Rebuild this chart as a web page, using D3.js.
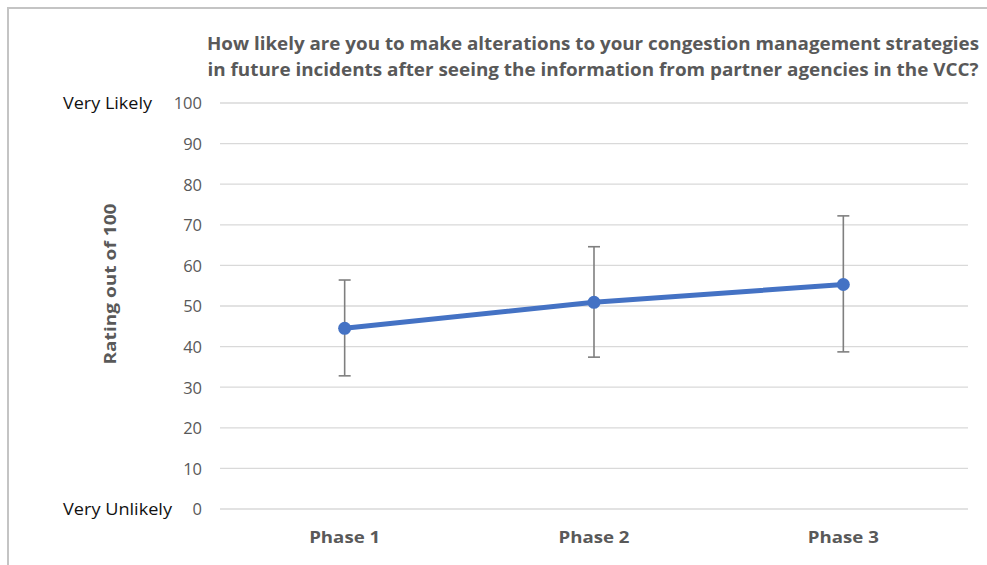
<!DOCTYPE html>
<html>
<head>
<meta charset="utf-8">
<script src="https://cdn.jsdelivr.net/npm/d3@7"></script>
<style>
  html, body { margin: 0; padding: 0; background: #fff; }
  svg { display: block; font-family: "Open Sans", "Noto Sans", sans-serif; }
</style>
</head>
<body>
<svg id="chart" width="987" height="565"></svg>
<script>
// Survey rating by phase, with error bar extents
const phases = ["Phase 1", "Phase 2", "Phase 3"];
const ratings = [44.5, 50.9, 55.3];
const errHigh = [56.4, 64.6, 72.2];
const errLow = [32.8, 37.4, 38.7];
const yTicks = [0, 10, 20, 30, 40, 50, 60, 70, 80, 90, 100];
const titleLines = [
  "How likely are you to make alterations to your congestion management strategies",
  "in future incidents after seeing the information from partner agencies in the VCC?"
];
const yAxisTitle = "Rating out of 100";
const topAnchor = "Very Likely";
const bottomAnchor = "Very Unlikely";

const svg = d3.select("#chart");
const plot = { left: 220, right: 968, top: 103, bottom: 509 };

const x = d3.scaleBand().domain(phases).range([plot.left, plot.right]);
const y = d3.scaleLinear().domain([0, 100]).range([plot.bottom, plot.top]);

// Squeeze text horizontally to a target width while keeping its height
function fit(sel, w) {
  sel.attr("textLength", w).attr("lengthAdjust", "spacingAndGlyphs");
}

// Outer frame
svg.append("path")
  .attr("d", "M8,565 L8,8 L987,8")
  .attr("fill", "none").attr("stroke", "#c4c4c4").attr("stroke-width", 2);

// Title
titleLines.forEach((t, i) => {
  svg.append("text")
    .attr("x", 593).attr("y", 50 + i * 26)
    .attr("text-anchor", "middle")
    .attr("font-size", 17).attr("font-weight", 700)
    .attr("fill", "#595959")
    .text(t)
    .call(fit, i === 0 ? 772 : 771);
});

// Gridlines
svg.append("g")
  .selectAll("line")
  .data(yTicks)
  .join("line")
  .attr("x1", plot.left).attr("x2", plot.right)
  .attr("y1", d => y(d)).attr("y2", d => y(d))
  .attr("stroke", "#d9d9d9").attr("stroke-width", 1.3);

// Y axis tick labels
const yAxis = d3.axisLeft(y).tickValues(yTicks).tickSize(0).tickPadding(0);
const gy = svg.append("g").attr("transform", "translate(202,0)").call(yAxis);
gy.select(".domain").remove();
gy.selectAll("text")
  .attr("font-family", "\"Open Sans\", sans-serif")
  .attr("font-size", 16.5).attr("fill", "#595959")
  .attr("dy", "0.36em");

// Anchor labels at the scale ends
svg.append("text")
  .attr("x", 63).attr("y", y(100)).attr("dy", "0.36em")
  .attr("font-size", 15.5).attr("fill", "#111")
  .text(topAnchor).call(fit, 89);
svg.append("text")
  .attr("x", 63).attr("y", y(0)).attr("dy", "0.36em")
  .attr("font-size", 15.5).attr("fill", "#111")
  .text(bottomAnchor).call(fit, 109);

// Y axis title
svg.append("text")
  .attr("transform", `translate(116,${(plot.top + plot.bottom) / 2 - 22}) rotate(-90)`)
  .attr("text-anchor", "middle")
  .attr("font-size", 16.5).attr("font-weight", 700).attr("fill", "#595959")
  .text(yAxisTitle).call(fit, 161);

// Category labels
const xAxis = d3.axisBottom(x).tickSize(0).tickPadding(0);
const gx = svg.append("g").attr("transform", "translate(0,543)").call(xAxis);
gx.select(".domain").remove();
gx.selectAll("text")
  .attr("font-family", "\"Open Sans\", sans-serif")
  .attr("font-size", 16.5).attr("font-weight", 700).attr("fill", "#595959")
  .attr("dy", 0)
  .each(function () { d3.select(this).call(fit, 71); });

const cx = d => x(d) + x.bandwidth() / 2;
const data = phases.map((p, i) => ({ p, v: ratings[i], hi: errHigh[i], lo: errLow[i] }));

// Error bars
const eb = svg.append("g").attr("stroke", "#7f7f7f").attr("stroke-width", 1.6);
eb.selectAll("line.stem").data(data).join("line").attr("class", "stem")
  .attr("x1", d => cx(d.p)).attr("x2", d => cx(d.p))
  .attr("y1", d => y(d.hi)).attr("y2", d => y(d.lo));
eb.selectAll("line.capHi").data(data).join("line").attr("class", "capHi")
  .attr("x1", d => cx(d.p) - 6).attr("x2", d => cx(d.p) + 6)
  .attr("y1", d => y(d.hi)).attr("y2", d => y(d.hi));
eb.selectAll("line.capLo").data(data).join("line").attr("class", "capLo")
  .attr("x1", d => cx(d.p) - 6).attr("x2", d => cx(d.p) + 6)
  .attr("y1", d => y(d.lo)).attr("y2", d => y(d.lo));

// Rating line
const line = d3.line().x(d => cx(d.p)).y(d => y(d.v));
svg.append("path").datum(data)
  .attr("d", line)
  .attr("fill", "none").attr("stroke", "#4472c4")
  .attr("stroke-width", 5).attr("stroke-linecap", "round");

// Markers
svg.append("g").selectAll("circle").data(data).join("circle")
  .attr("cx", d => cx(d.p)).attr("cy", d => y(d.v))
  .attr("r", 6.5).attr("fill", "#4472c4");
</script>
</body>
</html>
